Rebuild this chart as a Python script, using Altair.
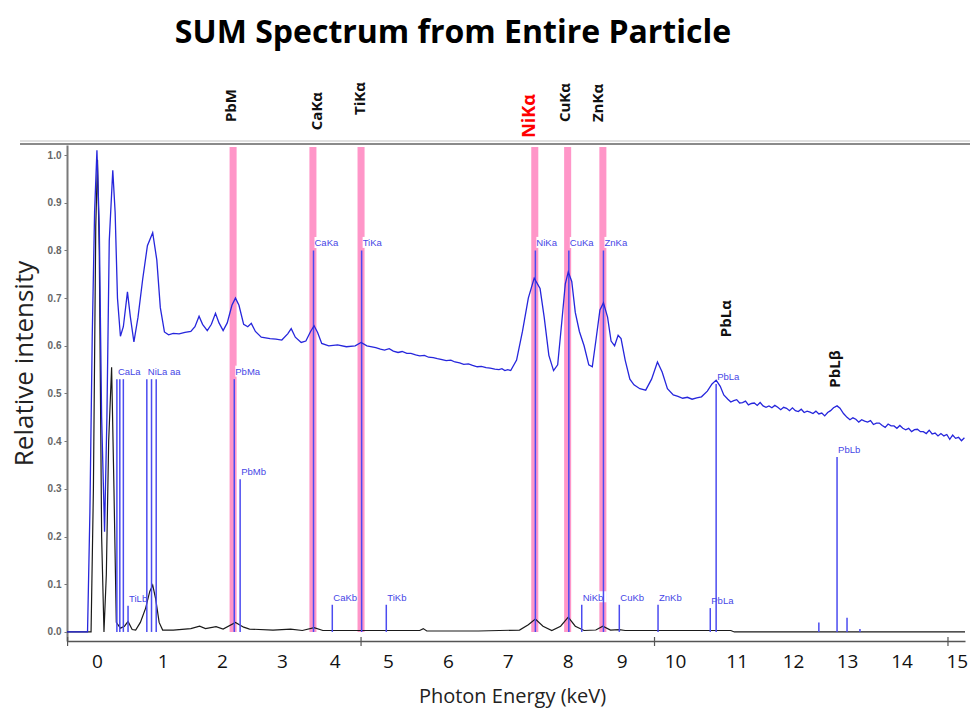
import altair as alt
import pandas as pd

# ---------------- data ----------------
blue_e = [-0.51, -0.16, -0.12, -0.08, -0.04, 0.00, 0.04, 0.08, 0.13, 0.17, 0.21, 0.27, 0.31, 0.35,
          0.40, 0.45, 0.52, 0.57, 0.63, 0.70, 0.78, 0.86, 0.95, 1.02, 1.08, 1.15, 1.22, 1.30, 1.40,
          1.50, 1.60, 1.67, 1.74, 1.80, 1.88, 1.95, 2.02, 2.08, 2.15, 2.22, 2.30, 2.36, 2.42, 2.50,
          2.57, 2.63, 2.70, 2.80, 2.95, 3.05, 3.15, 3.25, 3.31, 3.38, 3.48, 3.56, 3.64, 3.70, 3.76,
          3.83, 3.95, 4.10, 4.25, 4.40, 4.50, 4.60, 4.75, 4.83, 4.90, 4.98, 5.05, 5.13, 5.20, 5.28,
          5.35, 5.43, 5.50, 5.58, 5.65, 5.73, 5.80, 5.88, 5.95, 6.03, 6.10, 6.18, 6.25, 6.33, 6.40,
          6.48, 6.55, 6.63, 6.70, 6.78, 6.85, 6.90, 6.95, 7.00, 7.05, 7.15, 7.25, 7.35, 7.45, 7.55, 7.62,
          7.70, 7.78, 7.85, 7.92, 7.98, 8.03, 8.09, 8.15, 8.22, 8.30, 8.38, 8.44, 8.50, 8.57, 8.63,
          8.70, 8.76, 8.82, 8.88, 8.93, 9.00, 9.08, 9.15, 9.25, 9.35, 9.45, 9.55, 9.63, 9.72, 9.82,
          9.90, 9.98, 10.06, 10.14, 10.22, 10.30, 10.40, 10.48, 10.55, 10.62, 10.68,
          10.75, 10.80, 10.85, 10.90, 10.95, 11.00, 11.05, 11.10, 11.15, 11.20, 11.25, 11.30, 11.35,
          11.40, 11.45, 11.50, 11.55, 11.60, 11.65, 11.70, 11.75, 11.80, 11.85, 11.90, 11.95, 12.00,
          12.05, 12.10, 12.15, 12.20, 12.25, 12.30, 12.35, 12.40, 12.45, 12.50, 12.55, 12.61, 12.66,
          12.72, 12.78, 12.83, 12.88, 12.93, 12.98, 13.03, 13.08, 13.13, 13.18, 13.23, 13.28, 13.33,
          13.38, 13.43, 13.48, 13.53, 13.58, 13.63, 13.68, 13.73, 13.78, 13.83, 13.88, 13.93, 13.98,
          14.03, 14.08, 14.13, 14.18, 14.23, 14.28, 14.33, 14.38, 14.43, 14.48, 14.53, 14.58, 14.63,
          14.68, 14.73, 14.78]
blue_i = [0.0, 0.0, 0.25, 0.62, 0.88, 1.01, 0.85, 0.45, 0.21, 0.45, 0.82, 0.968, 0.88, 0.70,
          0.62, 0.64, 0.713, 0.66, 0.608, 0.66, 0.74, 0.81, 0.837, 0.78, 0.68, 0.629, 0.623, 0.626, 0.625,
          0.628, 0.630, 0.640, 0.662, 0.645, 0.632, 0.645, 0.668, 0.648, 0.632, 0.648, 0.685, 0.700, 0.685, 0.645,
          0.640, 0.647, 0.630, 0.618, 0.615, 0.614, 0.612, 0.625, 0.636, 0.618, 0.607, 0.610, 0.630, 0.642, 0.628,
          0.605, 0.600, 0.602, 0.598, 0.600, 0.607, 0.600, 0.596, 0.593, 0.591, 0.594, 0.589, 0.586, 0.588,
          0.584, 0.584, 0.581, 0.579, 0.580, 0.576, 0.575, 0.573, 0.571, 0.569, 0.570, 0.566, 0.564,
          0.561, 0.562, 0.559, 0.556, 0.557, 0.554, 0.553, 0.551, 0.550, 0.552, 0.548, 0.550, 0.548,
          0.570, 0.630, 0.700, 0.742, 0.720, 0.660,
          0.580, 0.548, 0.560, 0.650, 0.730, 0.755, 0.735, 0.670, 0.630, 0.600, 0.560, 0.556, 0.610, 0.675, 0.690,
          0.660, 0.610, 0.600, 0.622, 0.615, 0.570, 0.530, 0.518, 0.510, 0.507, 0.530, 0.566, 0.545, 0.510, 0.497,
          0.494, 0.490, 0.492, 0.488, 0.491, 0.493, 0.505, 0.520, 0.528, 0.515, 0.497,
          0.488, 0.482, 0.485, 0.487, 0.480, 0.481, 0.484, 0.476, 0.479, 0.480, 0.475, 0.481, 0.474,
          0.471, 0.474, 0.470, 0.475, 0.471, 0.466, 0.471, 0.469, 0.464, 0.470, 0.464, 0.462, 0.467,
          0.460, 0.463, 0.461, 0.458, 0.463, 0.457, 0.459, 0.453, 0.460, 0.464, 0.470, 0.474, 0.469,
          0.458, 0.450, 0.445, 0.449, 0.446, 0.440, 0.445, 0.442, 0.440, 0.443, 0.435, 0.438, 0.438,
          0.433, 0.429, 0.436, 0.432, 0.432, 0.427, 0.433, 0.427, 0.424, 0.427, 0.420, 0.424, 0.425,
          0.420, 0.420, 0.416, 0.423, 0.415, 0.417, 0.411, 0.416, 0.411, 0.414, 0.404, 0.413, 0.406,
          0.408, 0.401, 0.407]

black_e = [-0.51, -0.10, -0.06, -0.02, 0.01, 0.04, 0.08, 0.12, 0.16, 0.20, 0.25, 0.29, 0.33, 0.40,
           0.47, 0.53, 0.60, 0.66, 0.74, 0.83, 0.90, 0.95, 1.00, 1.06, 1.12, 1.30, 1.50, 1.60, 1.75,
           1.85, 2.03, 2.15, 2.36, 2.50, 2.60, 3.00, 3.30, 3.50, 3.70, 3.85, 4.50, 5.50, 5.56, 5.62,
           6.50, 7.20, 7.35, 7.47, 7.60, 7.75, 7.90, 8.03, 8.15, 8.30, 8.50, 8.62, 8.75, 8.90, 9.00,
           10.80, 10.86, 14.79]
black_i = [0.0, 0.0, 0.30, 0.85, 0.99, 0.80, 0.20, 0.0, 0.12, 0.40, 0.555, 0.30, 0.02, 0.008,
           0.012, 0.022, 0.005, 0.004, 0.020, 0.050, 0.085, 0.098, 0.070, 0.020, 0.004, 0.004, 0.006, 0.007, 0.012,
           0.007, 0.011, 0.006, 0.020, 0.010, 0.006, 0.004, 0.006, 0.003, 0.009, 0.003, 0.003, 0.003, 0.007, 0.002,
           0.002, 0.004, 0.015, 0.027, 0.012, 0.003, 0.012, 0.031, 0.012, 0.003, 0.004, 0.012, 0.004, 0.005, 0.003,
           0.003, 0.000, 0.000]

marker_e = [0.34, 0.39, 0.45, 0.53, 0.85, 0.93, 1.01, 2.34, 2.44, 3.69, 4.01, 4.51, 4.93, 7.47,
            8.04, 8.26, 8.63, 8.90, 9.56, 10.45, 10.55, 12.30, 12.61, 12.78, 13.00]
marker_h = [0.53, 0.53, 0.53, 0.055, 0.53, 0.53, 0.53, 0.53, 0.32, 0.80, 0.057, 0.80, 0.057, 0.80,
            0.80, 0.057, 0.80, 0.057, 0.057, 0.05, 0.52, 0.02, 0.367, 0.03, 0.006]
marker_lbl = ["CaLa", "", "", "TiLb", "NiLa aa", "", "", "PbMa", "PbMb", "CaKa", "CaKb", "TiKa", "TiKb",
              "NiKa", "CuKa", "NiKb", "ZnKa", "CuKb", "ZnKb", "PbLa", "PbLa", "", "PbLb", "", ""]

band_e = [2.32, 3.68, 4.50, 7.46, 8.02, 8.62]

top_lbl = ["PbM", "CaKα", "TiKα", "NiKα", "CuKα", "ZnKα", "PbLα", "PbLβ"]
top_e = [2.28, 3.75, 4.48, 7.38, 7.97, 8.54, 10.72, 12.57]
top_y = [1.069, 1.052, 1.084, 1.036, 1.069, 1.069, 0.618, 0.512]
top_col = ["#111111", "#111111", "#111111", "#ff0000", "#111111", "#111111", "#111111", "#111111"]
top_size = [15, 15, 15, 18, 15, 15, 15, 15]

xlabel_pos = [0.0, 1.12, 2.13, 3.15, 4.05, 4.96, 5.98, 7.00, 8.02, 8.94, 9.85, 10.90, 11.86, 12.78,
              13.71, 14.65]
xtick_pos = [-0.5, 4.5, 9.5, 14.5]
ytick_vals = [0.0, 0.1, 0.2, 0.3, 0.4, 0.5, 0.6, 0.7, 0.8, 0.9, 1.0]

TITLE = "SUM Spectrum from Entire Particle"
FONT = "Open Sans"

# ---------------- tables ----------------
blue = pd.DataFrame({"e": blue_e, "i": blue_i})
black = pd.DataFrame({"e": black_e, "i": black_i})
markers = pd.DataFrame({"e": marker_e, "h": marker_h, "lbl": marker_lbl})
markers["base"] = 0.0
markers["n"] = markers["lbl"].str.len()
bands = pd.DataFrame({"e": band_e})
bands["lo"] = bands["e"] - 0.06
bands["hi"] = bands["e"] + 0.06
bands["b0"] = 0.0
bands["b1"] = 1.017
tops = pd.DataFrame({"e": top_e, "y": top_y, "t": top_lbl, "c": top_col, "s": top_size})
xticks = pd.DataFrame({"e": xtick_pos})

W, H = 898, 496
xscale = alt.Scale(domain=[-0.51, 14.79], nice=False, zero=False)
yscale = alt.Scale(domain=[-0.019, 1.021], nice=False, zero=False)

xaxis = alt.Axis(values=xlabel_pos, labelExpr="format(round(datum.value), 'd')", ticks=False,
                 grid=False, domainColor="#555555", domainWidth=1.5, labelFont=FONT,
                 labelFontSize=19, labelColor="#111111", labelPadding=11,
                 title="Photon Energy (keV)", titleFont=FONT, titleFontSize=20,
                 titleFontWeight="normal", titleColor="#222222", titleX=445, titleY=55,
                 titleAnchor="start", titleAlign="center", titleBaseline="middle",
                 labelFlush=False, labelOverlap=False)
yaxis = alt.Axis(values=ytick_vals, format=".1f", grid=False, domainColor="#7a7a7a", domainWidth=2,
                 tickSize=3, tickColor="#777777", labelFont="Liberation Sans", labelFontSize=10,
                 labelFontWeight="bold", labelColor="#666666", labelPadding=3,
                 title="Relative intensity", titleFont=FONT, titleFontSize=26,
                 titleFontWeight="normal", titleColor="#222222", titleX=-43, titleY=218,
                 titleAngle=270, titleAlign="center", titleBaseline="middle", labelOverlap=False,
                 labelFlush=False)


def X(field):
    return alt.X(field, type="quantitative", scale=xscale, axis=xaxis)


def Y(field):
    return alt.Y(field, type="quantitative", scale=yscale, axis=yaxis)


band_layer = alt.Chart(bands).mark_rect(color="#ff96c8", opacity=1).encode(
    x=X("lo"), x2="hi", y=Y("b0"), y2="b1")

label_box = alt.Chart(markers).transform_filter("datum.n > 0").mark_rect(
    color="white", width=24, height=11, xOffset=13, yOffset=-8).encode(
    x=X("e"), y=Y("h"))

black_layer = alt.Chart(black).mark_line(color="#1a1a1a", strokeWidth=1.2).encode(
    x=X("e"), y=Y("i"))

marker_text = alt.Chart(markers).mark_text(
    align="left", baseline="bottom", dx=1, dy=-2, font="Liberation Sans", fontSize=9.5,
    color="#4646e6").encode(x=X("e"), y=Y("h"), text="lbl:N")

marker_layer = alt.Chart(markers).mark_rule(color="#4b4bf0", strokeWidth=1.5).encode(
    x=X("e"), y=Y("base"), y2="h")

blue_layer = alt.Chart(blue).mark_line(color="#2626dc", strokeWidth=1.3).encode(
    x=X("e"), y=Y("i"))

top_text = alt.Chart(tops).mark_text(
    angle=270, align="left", baseline="middle", font=FONT, fontWeight="bold").encode(
    x=X("e"), y=Y("y"), text="t:N",
    color=alt.Color("c:N", scale=None), size=alt.Size("s:Q", scale=None))

xtick_layer = alt.Chart(xticks).mark_rule(color="#555555", strokeWidth=1.2).encode(
    x=X("e"), y=alt.value(H - 4), y2=alt.value(H + 5))

one = alt.Data(values=[{"k": 1}])
title_layer = alt.Chart(one).mark_text(
    text=TITLE, font=FONT, fontSize=32, fontWeight="bold", color="#000000",
    align="center", baseline="middle").encode(x=alt.value(386), y=alt.value(-112))

frame_dark = alt.Chart(one).mark_rule(color="#8a8a8a", strokeWidth=2).encode(
    x=alt.value(-47), x2=alt.value(W + 5), y=alt.value(-1))
frame_light = alt.Chart(one).mark_rule(color="#d6d6d6", strokeWidth=1.5).encode(
    x=alt.value(-47), x2=alt.value(W + 5), y=alt.value(-4))

chart = alt.layer(
    band_layer, label_box, marker_text, black_layer, marker_layer, blue_layer, top_text,
    xtick_layer, title_layer, frame_light, frame_dark
).properties(
    width=W, height=H,
    padding={"left": 67, "top": 145, "right": 5, "bottom": 70},
    autosize=alt.AutoSizeParams(type="none"),
    background="white",
).configure_view(stroke=None)

chart.save("out.html", embed_options={"renderer": "svg", "actions": False})
